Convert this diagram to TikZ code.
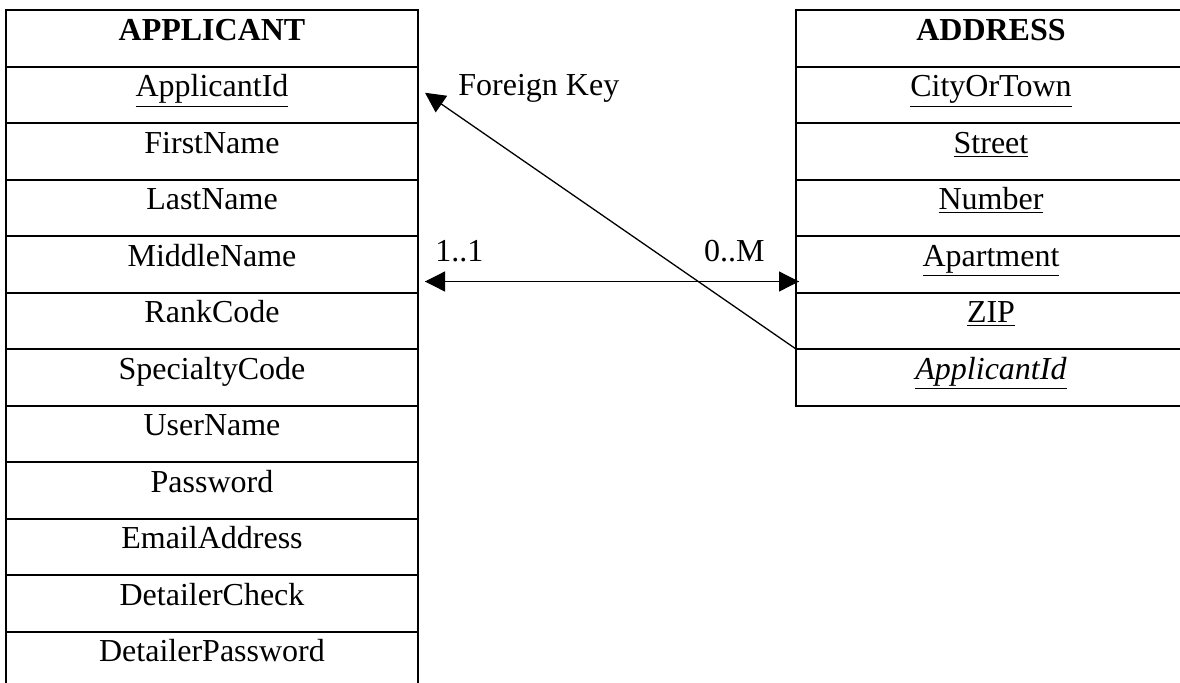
\documentclass[tikz,border=0pt]{standalone}
\usepackage{fontspec}
\setmainfont{Liberation Serif}
\usetikzlibrary{arrows.meta,calc}
\begin{document}
\begin{tikzpicture}[x=0.5pt,y=-0.5pt,
  cell/.style={draw, line width=1pt, inner sep=0pt, outer sep=0pt, anchor=north,
    text height=15pt, text depth=13.25pt,
    font=\fontsize{16}{19}\selectfont},
  lcell/.style={cell, minimum width=206pt},
  rcell/.style={cell, minimum width=195pt},
  lbl/.style={inner sep=0pt, font=\fontsize{16}{19}\selectfont},
  conn/.style={line width=0.65pt},
  tip/.style={-{Triangle[length=10pt,width=10pt]}},
]
\useasboundingbox (0,0) rectangle (1180,682);

% APPLICANT table
\node[lcell] (aHead) at (212,10) {\textbf{APPLICANT}};
\node[lcell] (aId)    at (aHead.south) {\underline{ApplicantId}};
\node[lcell] (aFirst) at (aId.south)    {FirstName};
\node[lcell] (aLast)  at (aFirst.south) {LastName};
\node[lcell] (aMid)   at (aLast.south)  {MiddleName};
\node[lcell] (aRank)  at (aMid.south)   {RankCode};
\node[lcell] (aSpec)  at (aRank.south)  {SpecialtyCode};
\node[lcell] (aUser)  at (aSpec.south)  {UserName};
\node[lcell] (aPass)  at (aUser.south)  {Password};
\node[lcell] (aMail)  at (aPass.south)  {EmailAddress};
\node[lcell] (aDChk)  at (aMail.south)  {DetailerCheck};
\node[lcell] (aDPwd)  at (aDChk.south)  {DetailerPassword};

% ADDRESS table
\node[rcell] (bHead) at (991,10) {\textbf{ADDRESS}};
\node[rcell] (bCity) at (bHead.south) {\underline{CityOrTown}};
\node[rcell] (bStr)  at (bCity.south) {\underline{Street}};
\node[rcell] (bNum)  at (bStr.south)  {\underline{Number}};
\node[rcell] (bApt)  at (bNum.south)  {\underline{Apartment}};
\node[rcell] (bZip)  at (bApt.south)  {\underline{ZIP}};
\node[rcell] (bAid)  at (bZip.south)  {\underline{\textit{ApplicantId}}};

% foreign key reference
\coordinate (fkTip) at ($(aId.east)+(7,-2)$);
\draw[conn, tip] (bZip.south west) -- (fkTip);
\node[lbl, anchor=base west] (fkLbl) at (458,95) {Foreign Key};

% one-to-many relationship
\coordinate (relL) at ($(aMid.south east)+(7,-11)$);
\coordinate (relR) at ($(bApt.south west)+(3,-11)$);
\draw[conn, tip] (relL) -- (relR);
\draw[conn, tip] (relR) -- (relL);
\node[lbl, anchor=base west] (oneLbl)  at (435,261) {1..1};
\node[lbl, anchor=base east] (manyLbl) at (765,261) {0..M};
\end{tikzpicture}
\end{document}
